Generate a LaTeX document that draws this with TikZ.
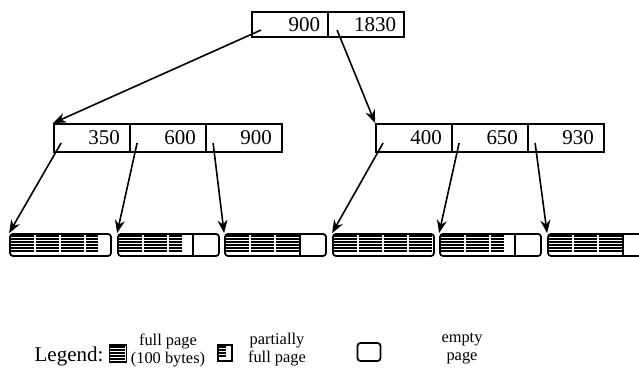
\documentclass[tikz,border=0pt]{standalone}
\usepackage{fontspec}
\setmainfont{Liberation Serif}
\usetikzlibrary{arrows.meta,positioning,calc}

\begin{document}
\begin{tikzpicture}[x=0.5pt,y=-0.5pt,
  key/.style={draw,line width=0.9pt,minimum height=12.5pt,text width=30pt,inner xsep=4pt,inner ysep=0pt,align=right,font=\fontsize{10.5}{12}\selectfont},
  key2/.style={key,minimum height=14pt,text width=28pt,inner xsep=5pt},
  leaf/.style={draw,line width=0.9pt,rounded corners=1.5pt,minimum width=50.5pt,minimum height=11pt,inner sep=0pt},
  hatch/.style={line width=0.85pt},
  sep/.style={line width=0.8pt},
  ptr/.style={-{Stealth[length=6.5pt,width=5pt]},line width=0.8pt},
  lg/.style={align=center,font=\fontsize{8.2}{9}\selectfont}
]
\useasboundingbox[fill=white] (0,0) rectangle (639,374);
% root
\node[key] (r1) at (290,24.5) {900};
\node[key] (r2) at (366,24.5) {1830};
% second level
\node[key2] (a1) at (92,138) {350};
\node[key2] (a2) at (168,138) {600};
\node[key2] (a3) at (244,138) {900};
\node[key2] (b1) at (414,138) {400};
\node[key2] (b2) at (490,138) {650};
\node[key2] (b3) at (566,138) {930};
% leaf pages
\foreach \n/\x in {1/60.5,2/168.5,3/275.5,4/383.5,5/490.5,6/598.5}
  \node[leaf] (leaf\n) at (\x,245) {};
\foreach \n/\fa/\fb/\fc/\fd in {1/1/1/1/.5,2/1/1/.55/0,3/1/1/1/0,4/1/1/1/1,5/1/1/.55/0,6/1/1/1/0}{
  \begin{scope}[shift={(leaf\n.north west)}]
    \foreach \f [count=\i from 0] in {\fa,\fb,\fc,\fd}{
      \foreach \y in {3,6,...,19} \draw[hatch] (\i*25+2,\y) -- ++(\f*23,0);
      \ifdim\f pt=0pt \draw[sep] (\i*25+1,0) -- ++(0,22); \fi
    }
  \end{scope}
}
% pointers
\draw[ptr] ([shift={(10,5.5)}]r1.west) -- (a1.north west);
\draw[ptr] ([shift={(10,5.5)}]r2.west) -- (b1.north west);
\draw[ptr] ([shift={(8,5)}]a1.west) -- (leaf1.north west);
\draw[ptr] ([shift={(8,5)}]a2.west) -- (leaf2.north west);
\draw[ptr] ([shift={(8,5)}]a3.west) -- (leaf3.north west);
\draw[ptr] ([shift={(8,5)}]b1.west) -- (leaf4.north west);
\draw[ptr] ([shift={(8,5)}]b2.west) -- (leaf5.north west);
\draw[ptr] ([shift={(8,5)}]b3.west) -- (leaf6.north west);
% legend
\node[font=\fontsize{10.5}{12}\selectfont] (legend) at (69,356) {Legend:};
\node[draw,line width=0.8pt,minimum size=8.5pt,inner sep=0pt] (lgfull) at (118,353.5) {};
\foreach \y in {3,6,...,15} \draw[hatch] ($(lgfull.north west)+(1,\y)$) -- ++(15,0);
\node[lg] (lgfulltext) at (168,350) {full page\\(100 bytes)};
\node[draw,line width=0.8pt,minimum width=7pt,minimum height=8pt,inner sep=0pt] (lgpart) at (225,353) {};
\foreach \y in {3,6,...,14} \draw[hatch] ($(lgpart.north west)+(1,\y)$) -- ++(8,0);
\node[lg] (lgparttext) at (277,350) {partially\\full page};
\node[leaf,minimum width=11.5pt,minimum height=9pt] (lgempty) at (369,352) {};
\node[lg] (lgemptytext) at (462,349) {empty\\page};
\end{tikzpicture}
\end{document}
